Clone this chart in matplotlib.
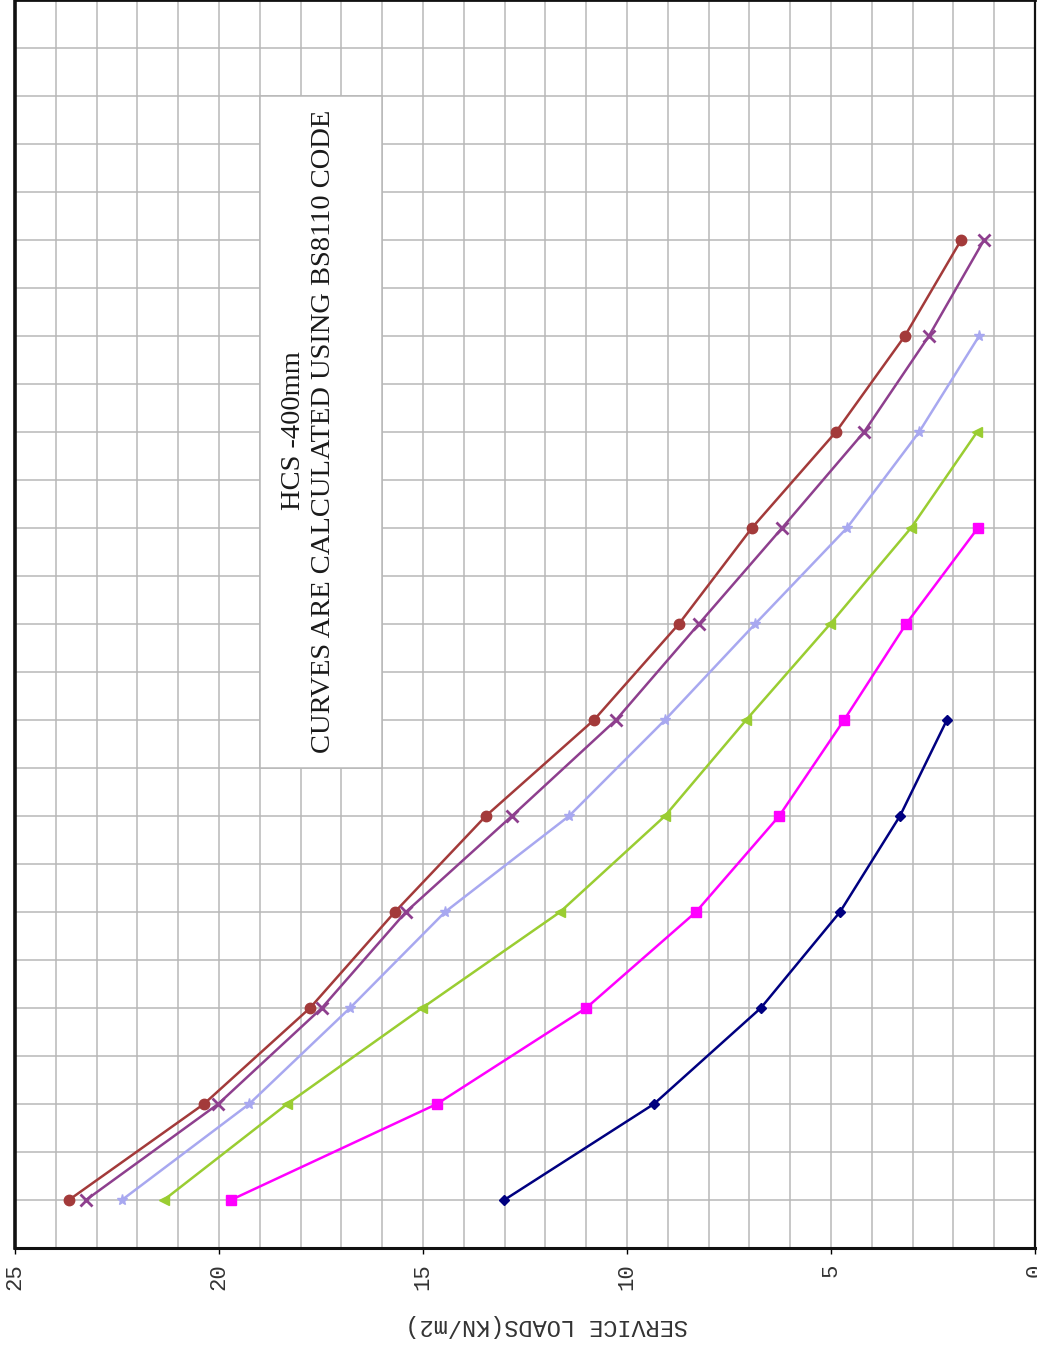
import matplotlib
matplotlib.use("Agg")
import matplotlib.pyplot as plt
from matplotlib.patches import Rectangle
from matplotlib.ticker import MultipleLocator

# ---- data (span in m, service load in kN/m2) ----
span_a = [16, 15, 14, 13, 12, 11, 10, 9, 8, 7, 6]
load_a = [1.81, 3.19, 4.88, 6.94, 8.73, 10.81, 13.46, 15.69, 17.77, 20.37, 23.68]

span_b = [16, 15, 14, 13, 12, 11, 10, 9, 8, 7, 6]
load_b = [1.25, 2.60, 4.19, 6.20, 8.24, 10.27, 12.82, 15.42, 17.48, 20.02, 23.26]

span_c = [15, 14, 13, 12, 11, 10, 9, 8, 7, 6]
load_c = [1.37, 2.84, 4.61, 6.86, 9.07, 11.42, 14.46, 16.79, 19.26, 22.38]

span_d = [14, 13, 12, 11, 10, 9, 8, 7, 6]
load_d = [1.42, 3.04, 5.02, 7.08, 9.07, 11.64, 15.02, 18.33, 21.35]

span_e = [13, 12, 11, 10, 9, 8, 7, 6]
load_e = [1.40, 3.16, 4.68, 6.27, 8.31, 11.00, 14.66, 19.71]

span_f = [11, 10, 9, 8, 7, 6]
load_f = [2.16, 3.31, 4.78, 6.72, 9.34, 13.01]

x_ticks = [25, 20, 15, 10, 5, 0]
x_ticklabels = ["25", "20", "15", "10", "5", "0"]

title_line1 = "HCS -400mm"
title_line2 = "CURVES ARE CALCULATED USING BS8110 CODE"
axis_label = "SERVICE LOADS(KN/m2)"

W, H = 1037, 1345
fig = plt.figure(figsize=(W / 100, H / 100), dpi=100)
fig.patch.set_facecolor("white")
ax = fig.add_axes([15 / W, (H - 1248) / H, (1035 - 15) / W, 1248 / H])

ax.set_xlim(25, 0)
ax.set_ylim(5.5, 18.5)

ax.xaxis.set_major_locator(MultipleLocator(5))
ax.xaxis.set_minor_locator(MultipleLocator(1))
ax.yaxis.set_major_locator(MultipleLocator(0.5))
ax.grid(which="both", axis="x", color="#b8b8b8", linewidth=1.1, zorder=0)
ax.grid(which="major", axis="y", color="#b8b8b8", linewidth=1.1, zorder=0)
ax.set_axisbelow(True)

ax.set_xticks(x_ticks)
ax.set_xticklabels(x_ticklabels, rotation=90, family="Liberation Mono",
                   fontsize=16, color="#333333")
ax.tick_params(axis="x", which="major", length=4, width=1, pad=7, direction="out")
ax.tick_params(axis="x", which="minor", length=0)
ax.tick_params(axis="y", which="both", length=0, labelleft=False)

for side, lw in [("left", 2.6), ("bottom", 2.2), ("top", 2.0), ("right", 1.6)]:
    ax.spines[side].set_linewidth(lw)
    ax.spines[side].set_color("#111111")

# white text box (covers grid)
ax.add_patch(Rectangle((0.24, 0.3846), 0.12, 0.5385, transform=ax.transAxes,
                       facecolor="white", edgecolor="#b8b8b8", linewidth=1.1,
                       zorder=1))

lw = 1.8
ax.plot(load_a, span_a, color="#A33A3A", marker="o", ms=7.5, lw=lw, zorder=5)
ax.plot(load_b, span_b, color="#8E3F8E", marker="x", ms=8.5, mew=2, lw=lw, zorder=5)
ax.plot(load_c, span_c, color="#A8A8F0", marker="*", ms=8, lw=lw, zorder=5)
ax.plot(load_d, span_d, color="#9ACD32", marker="<", ms=7.5, lw=lw, zorder=5)
ax.plot(load_e, span_e, color="#FF00FF", marker="s", ms=7.5, lw=lw, zorder=5)
ax.plot(load_f, span_f, color="#000080", marker="D", ms=5.5, lw=lw, zorder=5)

fig.text(293 / W, 1 - 431 / H, title_line1, rotation=90, ha="center", va="center",
         family="Liberation Serif", fontsize=20.5, color="#1a1a1a", zorder=10)
fig.text(324 / W, 1 - 431 / H, title_line2, rotation=90, ha="center", va="center",
         family="Liberation Serif", fontsize=20.5, color="#1a1a1a", zorder=10)

fig.text(547 / W, 1 - 1326 / H, axis_label, rotation=180, ha="center", va="center",
         family="Liberation Mono", fontsize=17, color="#333333")

fig.savefig("out.png", dpi=100, facecolor="white")
